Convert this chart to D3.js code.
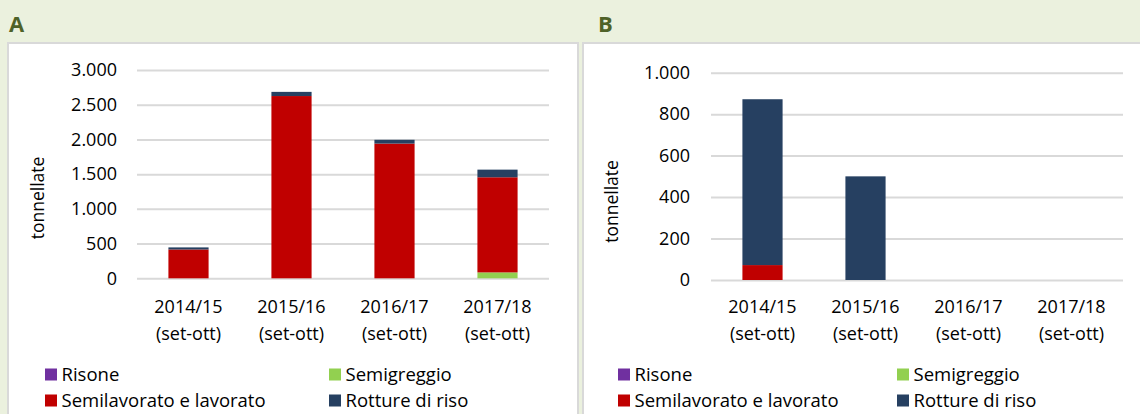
<!DOCTYPE html>
<html>
<head>
<meta charset="utf-8">
<script src="https://cdn.jsdelivr.net/npm/d3@7"></script>
<style>
	body { margin: 0; background: #ebf1de; }
	svg { display: block; font-family: "Open Sans", sans-serif; }
</style>
</head>
<body>
<svg width="1140" height="414"></svg>
<script>
// categories (two-line labels)
var yearLabels = ['2014/15', '2015/16', '2016/17', '2017/18'];
var subLabels = ['(set-ott)', '(set-ott)', '(set-ott)', '(set-ott)'];

var seriesNames = ['Risone', 'Semigreggio', 'Semilavorato e lavorato', 'Rotture di riso'];
var seriesColors = ['#7030a0', '#92d050', '#c00000', '#264061'];

// panel A values (tonnellate)
var risoneA = [0, 0, 0, 0];
var semigreggioA = [0, 0, 0, 85];
var semilavoratoA = [415, 2625, 1940, 1370];
var rottureA = [30, 60, 55, 110];

// panel B values (tonnellate)
var risoneB = [0, 0, 0, 0];
var semigreggioB = [0, 0, 0, 0];
var semilavoratoB = [72, 0, 0, 0];
var rottureB = [800, 500, 0, 0];

var ticksA = [0, 500, 1000, 1500, 2000, 2500, 3000];
var ticksB = [0, 200, 400, 600, 800, 1000];

var it = d3.formatLocale({decimal: ',', thousands: '.', grouping: [3], currency: ['€', '']});
var fmt = it.format(',.0f');

var svg = d3.select('svg');

function drawPanel(p) {
	var g = svg.append('g');

	g.append('rect')
		.attr('x', p.boxX).attr('y', 43)
		.attr('width', p.boxW).attr('height', 400)
		.attr('fill', '#fff')
		.attr('stroke', '#d9d9d9')
		.attr('stroke-width', 2);

	g.append('text')
		.attr('x', p.titleX).attr('y', 31.5)
		.attr('font-size', 22).attr('font-weight', 'bold')
		.attr('fill', '#4f6228')
		.text(p.title);

	var x = d3.scaleBand()
		.domain(yearLabels)
		.range([p.x0, p.x1])
		.paddingInner(0.61).paddingOuter(0.305);

	var y = d3.scaleLinear()
		.domain([0, p.ticks[p.ticks.length - 1]])
		.range([p.yBottom, p.yTop]);

	// gridlines
	g.append('g')
		.attr('transform', 'translate(' + p.x0 + ',0)')
		.call(d3.axisLeft(y).tickValues(p.ticks).tickSize(-(p.x1 - p.x0)).tickFormat(''))
		.call(function(a) { a.select('.domain').remove(); })
		.selectAll('line')
		.attr('stroke', '#d9d9d9')
		.attr('stroke-width', 2);

	// y tick labels
	g.append('g')
		.selectAll('text')
		.data(p.ticks)
		.enter().append('text')
		.attr('x', p.labelX)
		.attr('y', function(d) { return y(d); })
		.attr('dy', '0.35em')
		.attr('text-anchor', 'end')
		.attr('font-size', 18)
		.attr('fill', '#000')
		.text(function(d) { return fmt(d); });

	// y title
	g.append('text')
		.attr('transform', 'translate(' + p.yTitleX + ',' + p.yTitleY + ') rotate(-90)')
		.attr('text-anchor', 'middle')
		.attr('dy', '0.35em')
		.attr('font-size', 17.5)
		.attr('fill', '#000')
		.text('tonnellate');

	// stacked bars
	var rows = yearLabels.map(function(c, i) {
		var r = {cat: c};
		p.series.forEach(function(s, j) { r[seriesNames[j]] = s[i]; });
		return r;
	});
	var stack = d3.stack().keys(seriesNames)(rows);

	g.append('g')
		.selectAll('g')
		.data(stack)
		.enter().append('g')
		.attr('fill', function(d, i) { return seriesColors[i]; })
		.selectAll('rect')
		.data(function(d) { return d; })
		.enter().append('rect')
		.attr('x', function(d) { return x(d.data.cat); })
		.attr('width', x.bandwidth())
		.attr('y', function(d) { return y(d[1]); })
		.attr('height', function(d) { return y(d[0]) - y(d[1]); });

	// category labels
	var cl = g.append('g')
		.selectAll('text')
		.data(yearLabels)
		.enter().append('text')
		.attr('text-anchor', 'middle')
		.attr('font-size', 18)
		.attr('fill', '#000');
	cl.append('tspan')
		.attr('x', function(d) { return x(d) + x.bandwidth() / 2; })
		.attr('y', 313)
		.text(function(d) { return d; });
	cl.append('tspan')
		.attr('x', function(d) { return x(d) + x.bandwidth() / 2; })
		.attr('y', 340)
		.text(function(d, i) { return subLabels[i]; });

	// legend
	var lg = g.append('g')
		.selectAll('g')
		.data(seriesNames)
		.enter().append('g')
		.attr('transform', function(d, i) {
			return 'translate(' + p.legendCols[i % 2] + ',' + (368.5 + Math.floor(i / 2) * 26) + ')';
		});
	lg.append('rect')
		.attr('width', 12).attr('height', 12)
		.attr('fill', function(d, i) { return seriesColors[i]; });
	lg.append('text')
		.attr('x', 16.5).attr('y', 12.5)
		.attr('font-size', 18.5)
		.attr('fill', '#000')
		.text(function(d) { return d; });
}

drawPanel({
	title: 'A', titleX: 9, boxX: 8, boxW: 570,
	x0: 137, x1: 549, yBottom: 278.3, yTop: 70,
	ticks: ticksA, labelX: 117, yTitleX: 37.5, yTitleY: 198,
	legendCols: [45, 329],
	series: [risoneA, semigreggioA, semilavoratoA, rottureA]
});

drawPanel({
	title: 'B', titleX: 598, boxX: 583, boxW: 570,
	x0: 711, x1: 1123, yBottom: 280, yTop: 72.7,
	ticks: ticksB, labelX: 690, yTitleX: 612, yTitleY: 201.5,
	legendCols: [618, 897],
	series: [risoneB, semigreggioB, semilavoratoB, rottureB]
});
</script>
</body>
</html>
